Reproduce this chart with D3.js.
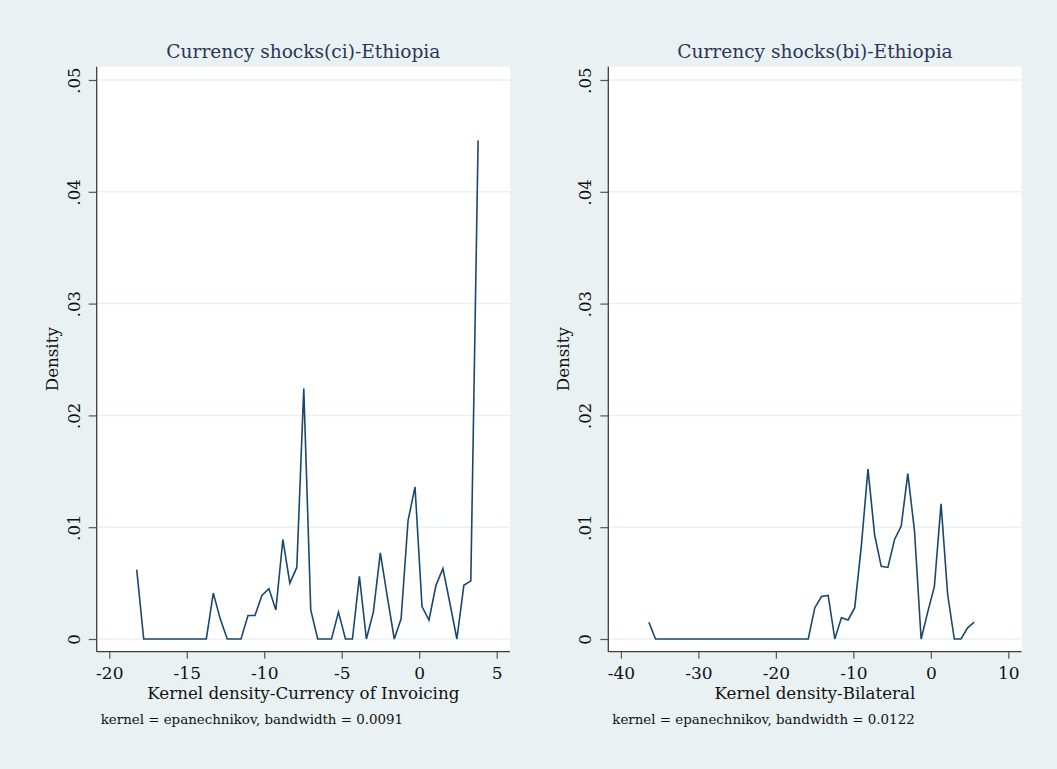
<!DOCTYPE html>
<html>
<head>
<meta charset="utf-8">
<script src="https://cdn.jsdelivr.net/npm/d3@7"></script>
<style>
  html, body { margin: 0; padding: 0; background: #eaf1f3; }
  svg { display: block; }
  text { font-family: "DejaVu Serif", "Liberation Serif", serif; }
</style>
</head>
<body>
<svg id="chart" width="1057" height="769"></svg>
<script>
// Kernel density estimates (50 evaluation points each)
const ciX = [-18.23, -17.78, -17.33, -16.88, -16.43, -15.98, -15.54, -15.09, -14.64, -14.19,
             -13.74, -13.29, -12.84, -12.39, -11.94, -11.50, -11.05, -10.60, -10.15, -9.70,
             -9.25, -8.80, -8.35, -7.90, -7.45, -7.00, -6.55, -6.11, -5.66, -5.21,
             -4.76, -4.31, -3.86, -3.41, -2.96, -2.51, -2.06, -1.61, -1.17, -0.72,
             -0.27, 0.18, 0.63, 1.08, 1.53, 1.98, 2.43, 2.88, 3.33, 3.80];
const ciDensity = [0.0062, 0, 0, 0, 0, 0, 0, 0, 0, 0,
                   0, 0.0041, 0.0018, 0, 0, 0, 0.0021, 0.0021, 0.0039, 0.0045,
                   0.0026, 0.0089, 0.0050, 0.0064, 0.0224, 0.0026, 0, 0, 0, 0.0024,
                   0, 0, 0.0056, 0, 0.0024, 0.0077, 0.0038, 0, 0.0018, 0.0106,
                   0.0136, 0.0029, 0.0017, 0.0048, 0.0063, 0.0032, 0, 0.0048, 0.0052, 0.0446];

const biX = [-36.39, -35.53, -34.68, -33.82, -32.96, -32.10, -31.25, -30.39, -29.54, -28.68,
             -27.82, -26.96, -26.11, -25.25, -24.39, -23.54, -22.68, -21.82, -20.96, -20.11,
             -19.25, -18.39, -17.54, -16.68, -15.82, -14.97, -14.11, -13.25, -12.39, -11.54,
             -10.68, -9.82, -8.97, -8.11, -7.25, -6.40, -5.54, -4.68, -3.82, -2.97,
             -2.11, -1.25, -0.40, 0.46, 1.32, 2.17, 3.03, 3.89, 4.75, 5.60];
const biDensity = [0.0015, 0, 0, 0, 0, 0, 0, 0, 0, 0,
                   0, 0, 0, 0, 0, 0, 0, 0, 0, 0,
                   0, 0, 0, 0, 0, 0.0028, 0.0038, 0.0039, 0, 0.0019,
                   0.0017, 0.0028, 0.0083, 0.0152, 0.0093, 0.0065, 0.0064, 0.0089, 0.0101, 0.0148,
                   0.0097, 0, 0.0024, 0.0047, 0.0121, 0.0040, 0, 0, 0.0010, 0.0015];

const yTicks = [0, 0.01, 0.02, 0.03, 0.04, 0.05];
const ciXTicks = [-20, -15, -10, -5, 0, 5];
const biXTicks = [-40, -30, -20, -10, 0, 10];

const panels = [
  { title: "Currency shocks(ci)-Ethiopia", xTitle: "Kernel density-Currency of Invoicing",
    note: "kernel = epanechnikov, bandwidth = 0.0091",
    x: ciX, y: ciDensity, xTicks: ciXTicks, xDomain: [-20, 5] },
  { title: "Currency shocks(bi)-Ethiopia", xTitle: "Kernel density-Bilateral",
    note: "kernel = epanechnikov, bandwidth = 0.0122",
    x: biX, y: biDensity, xTicks: biXTicks, xDomain: [-40, 10] }
];

const svg = d3.select("#chart");
const lineColor = "#1a476f";
const gridColor = "#eaf1f3";
const titleColor = "#2a3558";
const serif = "'DejaVu Serif', 'Liberation Serif', serif";

// plot region geometry (shared by both panels, shifted horizontally)
const plotW = 413.3, plotTop = 66.7, plotBottom = 651.7;
const panelLeft = [96.7, 608.3];
const xInsetL = 12.6, xInsetR = 13.3;   // scale range inset inside the plot region
const yTop = 80, yZero = 639;

const fmtY = v => v === 0 ? "0" : d3.format(".2f")(v).replace(/^0/, "");
const fmtX = v => String(v);   // plain hyphen-minus

panels.forEach((p, i) => {
  const left = panelLeft[i], right = left + plotW;
  const g = svg.append("g");

  const x = d3.scaleLinear().domain(p.xDomain).range([left + xInsetL, right - xInsetR]);
  const y = d3.scaleLinear().domain([0, 0.05]).range([yZero, yTop]);

  // plot region
  g.append("rect").attr("x", left).attr("y", plotTop)
    .attr("width", plotW).attr("height", plotBottom - plotTop).attr("fill", "#ffffff");

  // horizontal grid
  g.append("g").selectAll("line").data(yTicks).join("line")
    .attr("x1", left).attr("x2", right)
    .attr("y1", d => y(d)).attr("y2", d => y(d))
    .attr("stroke", gridColor).attr("stroke-width", 1.5);

  // density curve
  const pts = p.x.map((v, k) => [v, p.y[k]]);
  g.append("path").datum(pts)
    .attr("d", d3.line().x(d => x(d[0])).y(d => y(d[1])))
    .attr("fill", "none").attr("stroke", lineColor)
    .attr("stroke-width", 1.6).attr("stroke-linejoin", "miter");

  // y axis
  const yAxis = g.append("g").attr("transform", `translate(${left},0)`)
    .call(d3.axisLeft(y).tickValues(yTicks).tickFormat(fmtY).tickSize(8).tickSizeOuter(0));
  yAxis.select(".domain").attr("d", `M0,${plotTop}V${plotBottom}`)
    .attr("stroke", "#3c3c3c").attr("stroke-width", 1.3);
  yAxis.selectAll(".tick line").attr("stroke", "#555").attr("stroke-width", 1.2);
  yAxis.selectAll(".tick text")
    .attr("x", null).attr("dy", null).attr("y", null)
    .attr("transform", "translate(-17.2,0) rotate(-90)")
    .attr("text-anchor", "middle")
    .attr("font-size", 16.5).attr("fill", "#111")
    .style("font-family", serif);

  // x axis
  const xAxis = g.append("g").attr("transform", `translate(0,${plotBottom})`)
    .call(d3.axisBottom(x).tickValues(p.xTicks).tickFormat(fmtX).tickSize(7).tickSizeOuter(0));
  xAxis.select(".domain").attr("d", `M${left},0H${right}`)
    .attr("stroke", "#3c3c3c").attr("stroke-width", 1.3);
  xAxis.selectAll(".tick line").attr("stroke", "#555").attr("stroke-width", 1.2);
  xAxis.selectAll(".tick text")
    .attr("y", 27.6).attr("dy", null)
    .attr("font-size", 17).attr("fill", "#111")
    .style("font-family", serif);

  const cx = (left + right) / 2;

  // panel title
  g.append("text").attr("x", cx).attr("y", 57.5).attr("text-anchor", "middle")
    .attr("font-size", 18.6).attr("fill", titleColor).text(p.title);

  // x axis title
  g.append("text").attr("x", cx).attr("y", 699).attr("text-anchor", "middle")
    .attr("font-size", 16.7).attr("fill", "#111").text(p.xTitle);

  // y axis title
  g.append("text")
    .attr("transform", `translate(${left - 39},${(plotTop + plotBottom) / 2}) rotate(-90)`)
    .attr("text-anchor", "middle").attr("font-size", 16.7).attr("fill", "#111").text("Density");

  // kernel note
  g.append("text").attr("x", left + 4).attr("y", 724)
    .attr("font-size", 13.4).attr("fill", "#111").text(p.note);
});
</script>
</body>
</html>
